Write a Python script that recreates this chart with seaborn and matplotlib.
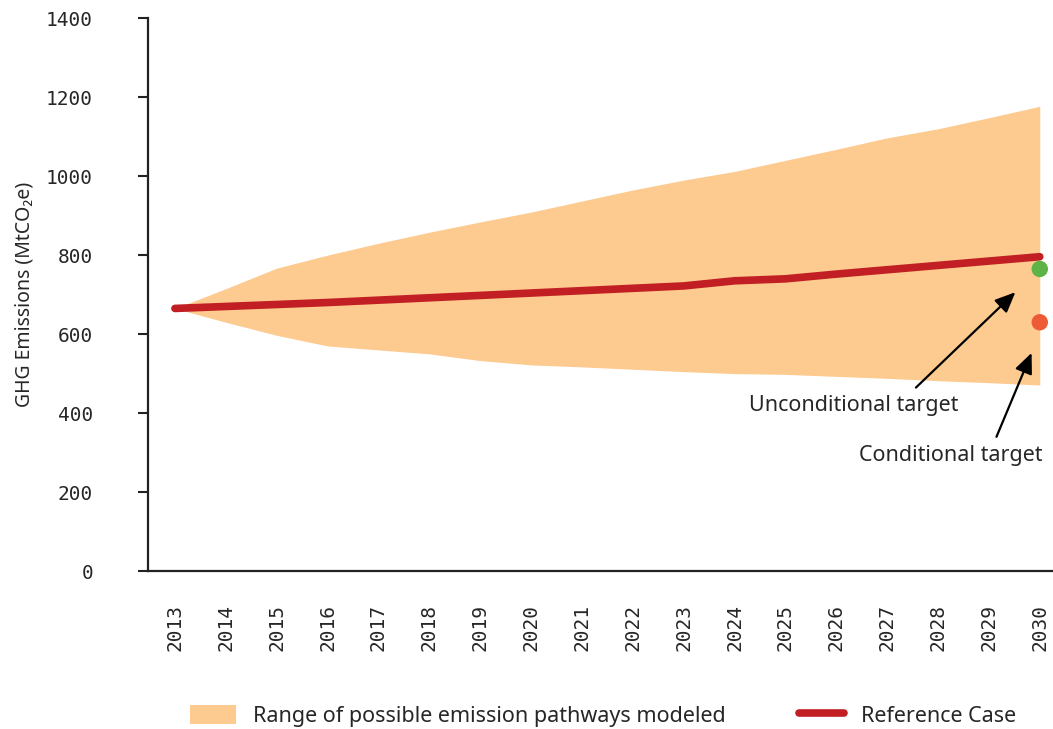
import numpy as np
import pandas as pd
import matplotlib
matplotlib.use("Agg")
import matplotlib.pyplot as plt
import seaborn as sns
from matplotlib.patches import Patch
from matplotlib.lines import Line2D

# data
years = list(range(2013, 2031))
reference_case = [665, 670, 675, 680, 686, 692, 698, 704, 710, 716, 722,
                  735, 740, 752, 763, 774, 785, 796]
range_upper = [665, 715, 767, 800, 830, 858, 884, 909, 937, 965, 990,
               1012, 1040, 1068, 1097, 1120, 1148, 1177]
range_lower = [665, 630, 597, 570, 560, 550, 533, 522, 517, 511, 505,
               500, 498, 493, 488, 482, 477, 471]
target_names = ["Unconditional target", "Conditional target"]
target_years = [2030, 2030]
target_values = [765, 630]
yticks = [0, 200, 400, 600, 800, 1000, 1200, 1400]

df = pd.DataFrame({"year": years, "ref": reference_case,
                   "upper": range_upper, "lower": range_lower})
targets = pd.DataFrame({"name": target_names, "year": target_years,
                        "value": target_values})

sns.set_theme(style="white")
plt.rcParams["font.family"] = ["Noto Sans", "DejaVu Sans"]

FILL = "#FDCA8F"
RED = "#C11F24"
SPINE = "#222222"

fig = plt.figure(figsize=(10.53, 7.29), dpi=100)
ax = fig.add_axes([0.1405, 0.2167, 0.8595, 0.7583])

# modeled range
ax.fill_between(df["year"], df["lower"], df["upper"], color=FILL, lw=0)

# reference case
sns.lineplot(data=df, x="year", y="ref", ax=ax, color=RED, lw=5.5,
             solid_capstyle="round")

# targets
sns.scatterplot(data=targets, x="year", y="value", hue="name",
                palette=["#5DB346", "#EE5A36"], s=140, edgecolor="none",
                legend=False, ax=ax, zorder=5, clip_on=False)

# annotations
arrow = dict(arrowstyle="-|>,head_length=0.8,head_width=0.35",
             color="black", lw=1.6, shrinkA=4)
ax.annotate("Unconditional target", xy=(2029.56, 711), xytext=(2026.35, 420),
            ha="center", va="center", fontsize=15.5,
            arrowprops=dict(arrow, relpos=(0.76, 1.0)))
ax.annotate("Conditional target", xy=(2029.86, 559), xytext=(2028.25, 292),
            ha="center", va="center", fontsize=15.5,
            arrowprops=dict(arrow, relpos=(0.73, 1.0)))

ax.set_xlim(2012.47, 2030.26)
ax.set_ylim(0, 1400)
ax.set_xticks(years)
ax.set_yticks(yticks)
ax.set_xlabel("")
ax.set_ylabel("GHG Emissions (MtCO₂e)", fontsize=14, labelpad=8)

for lab in ax.get_xticklabels() + ax.get_yticklabels():
    lab.set_family("DejaVu Sans Mono")
    lab.set_fontsize(14)
for lab in ax.get_xticklabels():
    lab.set_rotation(90)

ax.tick_params(axis="x", length=0, pad=24)
ax.tick_params(axis="y", length=7.5, width=1.5, color=SPINE, pad=32,
               direction="out", left=True)

sns.despine(ax=ax)
for side in ["left", "bottom"]:
    ax.spines[side].set_color(SPINE)
    ax.spines[side].set_linewidth(1.6)

handles = [Patch(facecolor=FILL, edgecolor="none"),
           Line2D([0], [0], color=RED, lw=5.5, solid_capstyle="round")]
fig.legend(handles, ["Range of possible emission pathways modeled", "Reference Case"],
           loc="center", bbox_to_anchor=(0.573, 0.018), ncol=2, frameon=False,
           fontsize=15.5, handlelength=2.1, handleheight=1.0,
           handletextpad=0.8, columnspacing=3.4)

fig.savefig("out.png", dpi=100)
